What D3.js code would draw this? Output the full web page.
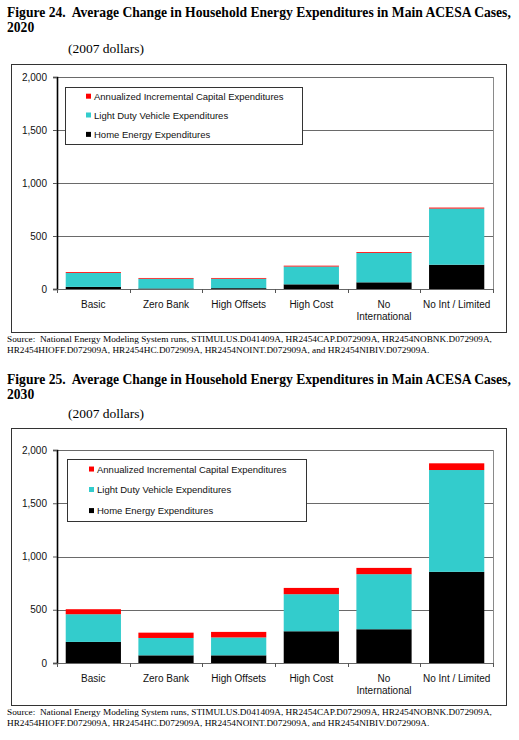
<!DOCTYPE html>
<html>
<head>
<meta charset="utf-8">
<script src="https://cdn.jsdelivr.net/npm/d3@7"></script>
<style>
  body { margin: 0; background: #fff; }
  text { white-space: pre; }
</style>
</head>
<body>
<div id="chart"></div>
<script>
// chart values (2007 dollars)
var categories = ["Basic", "Zero Bank", "High Offsets", "High Cost", "No International", "No Int / Limited"];
var categoryLines = [["Basic"], ["Zero Bank"], ["High Offsets"], ["High Cost"], ["No", "International"], ["No Int / Limited"]];

var home2020 = [20, 5, 8, 44, 63, 229];
var vehicle2020 = [132, 92, 89, 168, 278, 530];
var capital2020 = [8, 7, 7, 8, 8, 9];

var home2030 = [198, 72, 72, 298, 317, 856];
var vehicle2030 = [260, 163, 168, 348, 517, 956];
var capital2030 = [47, 50, 52, 59, 59, 63];

var yTicks = [0, 500, 1000, 1500, 2000];
var seriesNames = ["Home Energy Expenditures", "Light Duty Vehicle Expenditures", "Annualized Incremental Capital Expenditures"];
var seriesKeys = ["home", "vehicle", "capital"];
var seriesColors = ["#000000", "#33CCCC", "#FF0000"];

var sourceLines = [
  "Source:  National Energy Modeling System runs, STIMULUS.D041409A, HR2454CAP.D072909A, HR2454NOBNK.D072909A,",
  "HR2454HIOFF.D072909A, HR2454HC.D072909A, HR2454NOINT.D072909A, and HR2454NIBIV.D072909A."
];

var svg = d3.select("#chart")
  .append("svg")
  .attr("width", 519)
  .attr("height", 740);

svg.append("rect").attr("width", 519).attr("height", 740).attr("fill", "#fff");

function drawFigure(title1, title2, home, vehicle, capital, layout) {
  var g = svg.append("g");

  // title
  g.append("text")
    .attr("x", 7).attr("y", layout.title1)
    .attr("font-family", "Liberation Serif").attr("font-weight", "bold").attr("font-size", 13.6)
    .text(title1);
  g.append("text")
    .attr("x", 7).attr("y", layout.title2)
    .attr("font-family", "Liberation Serif").attr("font-weight", "bold").attr("font-size", 13.6)
    .text(title2);

  g.append("text")
    .attr("x", 68).attr("y", layout.units)
    .attr("font-family", "Liberation Serif").attr("font-size", 13.5)
    .text("(2007 dollars)");

  // outer frame
  g.append("rect")
    .attr("x", 11.5).attr("y", layout.frameTop + 0.5)
    .attr("width", 495).attr("height", layout.frameBottom - layout.frameTop)
    .attr("fill", "none").attr("stroke", "#333").attr("stroke-width", 1);

  var plotLeft = 57, plotRight = 493;
  var plotTop = layout.plotTop, plotBottom = layout.plotBottom;

  var x = d3.scaleBand()
    .domain(categories)
    .range([plotLeft, plotRight])
    .paddingInner(0.24)
    .paddingOuter(0.12);

  var y = d3.scaleLinear()
    .domain([0, 2000])
    .range([plotBottom, plotTop]);

  // gridlines and plot border
  g.append("g").selectAll("line")
    .data(yTicks.filter(d => d > 0))
    .enter().append("line")
    .attr("x1", plotLeft).attr("x2", plotRight)
    .attr("y1", d => Math.round(y(d)) + 0.5).attr("y2", d => Math.round(y(d)) + 0.5)
    .attr("stroke", "#6a6a6a").attr("stroke-width", 1);
  g.append("line")
    .attr("x1", plotRight + 0.5).attr("x2", plotRight + 0.5)
    .attr("y1", plotTop).attr("y2", plotBottom)
    .attr("stroke", "#8a8a8a");

  // stacked bars
  var rows = categories.map(function (c, i) {
    return { cat: c, home: home[i], vehicle: vehicle[i], capital: capital[i] };
  });
  var stacked = d3.stack().keys(seriesKeys)(rows);

  g.append("g").selectAll("g")
    .data(stacked)
    .enter().append("g")
    .attr("fill", (d, i) => seriesColors[i])
    .selectAll("rect")
    .data(d => d)
    .enter().append("rect")
    .attr("x", d => x(d.data.cat))
    .attr("width", x.bandwidth())
    .attr("y", d => y(d[1]))
    .attr("height", d => y(d[0]) - y(d[1]));

  // y axis
  var leftAxis = d3.axisLeft(y)
    .tickValues(yTicks)
    .tickSize(4)
    .tickPadding(6)
    .tickFormat(d3.format(","));
  var yAxis = g.append("g")
    .attr("transform", `translate(${plotLeft}, 0)`)
    .call(leftAxis);
  yAxis.select(".domain").attr("stroke", "#000").attr("stroke-width", 1.6);
  yAxis.selectAll(".tick line").attr("stroke", "#555");
  yAxis.selectAll("text")
    .attr("font-family", "Liberation Sans").attr("font-size", 10).attr("fill", "#111");

  // x axis: ticks on the category boundaries
  g.append("line")
    .attr("x1", plotLeft).attr("x2", plotRight)
    .attr("y1", plotBottom + 0.5).attr("y2", plotBottom + 0.5)
    .attr("stroke", "#666");
  var bounds = d3.range(categories.length + 1).map(i => plotLeft + i * x.step());
  g.append("g").selectAll("line")
    .data(bounds)
    .enter().append("line")
    .attr("x1", d => Math.round(d) + 0.5).attr("x2", d => Math.round(d) + 0.5)
    .attr("y1", plotBottom).attr("y2", plotBottom + 4)
    .attr("stroke", "#555");

  var xl = g.append("g").selectAll("text")
    .data(categoryLines)
    .enter().append("text")
    .attr("x", (d, i) => x(categories[i]) + x.bandwidth() / 2)
    .attr("y", plotBottom + 19)
    .attr("text-anchor", "middle")
    .attr("font-family", "Liberation Sans").attr("font-size", 10).attr("fill", "#111");
  xl.selectAll("tspan")
    .data(d => d)
    .enter().append("tspan")
    .attr("x", function () { return d3.select(this.parentNode).attr("x"); })
    .attr("dy", (d, i) => i === 0 ? 0 : 12)
    .text(d => d);

  // legend
  var lg = g.append("g");
  lg.append("rect")
    .attr("x", layout.legX + 0.5).attr("y", layout.legY + 0.5)
    .attr("width", layout.legW).attr("height", layout.legH)
    .attr("fill", "#fff").attr("stroke", "#333");
  var legOrder = [2, 1, 0];
  var fracs = [0.17, 0.5, 0.84];
  legOrder.forEach(function (s, k) {
    var cy = layout.legY + layout.legH * fracs[k];
    lg.append("rect")
      .attr("x", layout.legX + layout.sqX).attr("y", cy - 3)
      .attr("width", 5).attr("height", 5)
      .attr("fill", seriesColors[s]);
    lg.append("text")
      .attr("x", layout.legX + layout.sqX + 8).attr("y", cy + 3.3)
      .attr("font-family", "Liberation Sans").attr("font-size", 9.5).attr("fill", "#111")
      .text(seriesNames[s]);
  });

  // source note
  g.selectAll(".src")
    .data(sourceLines)
    .enter().append("text")
    .attr("x", 7)
    .attr("y", (d, i) => layout.frameBottom + 10 + i * 11)
    .attr("font-family", "Liberation Serif").attr("font-size", 9.25)
    .text(d => d);
}

drawFigure(
  "Figure 24.  Average Change in Household Energy Expenditures in Main ACESA Cases,",
  "2020",
  home2020, vehicle2020, capital2020,
  { title1: 16.5, title2: 31.5, units: 53, frameTop: 64, frameBottom: 332,
    plotTop: 77, plotBottom: 289,
    legX: 65, legY: 87, legW: 237, legH: 57, sqX: 21 });

drawFigure(
  "Figure 25.  Average Change in Household Energy Expenditures in Main ACESA Cases,",
  "2030",
  home2030, vehicle2030, capital2030,
  { title1: 383.5, title2: 398.5, units: 417.5, frameTop: 428, frameBottom: 705,
    plotTop: 450, plotBottom: 663,
    legX: 67, legY: 459, legW: 239, legH: 62, sqX: 22 });
</script>
</body>
</html>
